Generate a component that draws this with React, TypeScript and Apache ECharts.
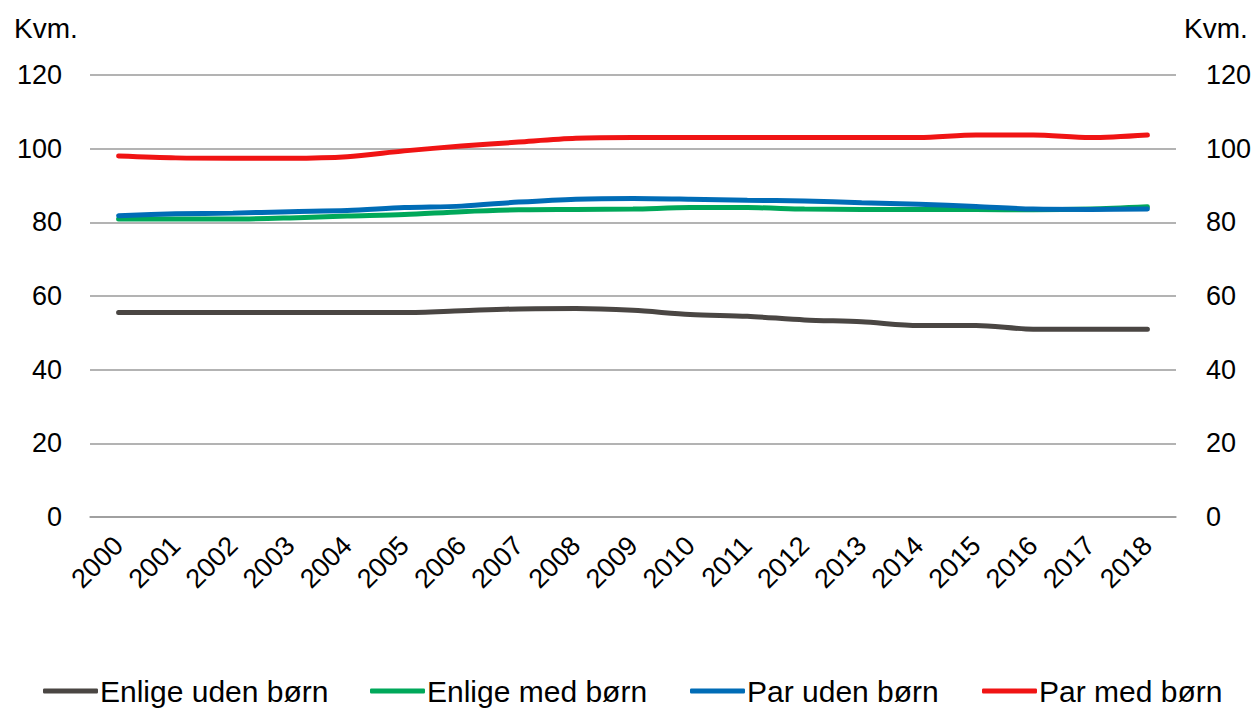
import React, { useEffect, useRef } from "react";
import * as echarts from "echarts";

const years = ["2000","2001","2002","2003","2004","2005","2006","2007","2008","2009","2010","2011","2012","2013","2014","2015","2016","2017","2018"];
const enligeUden = [55.5,55.5,55.5,55.5,55.5,55.5,56,56.5,56.6,56.1,55,54.5,53.5,53,52,52,51,51,51];
const enligeMed = [80.9,80.9,80.9,81.2,81.7,82.1,82.9,83.4,83.5,83.6,84,84,83.6,83.5,83.5,83.5,83.4,83.6,84.2];
const parUden = [81.8,82.3,82.5,82.9,83.2,84,84.4,85.5,86.3,86.5,86.3,86,85.8,85.3,84.9,84.3,83.6,83.5,83.6];
const parMed = [98,97.5,97.4,97.4,97.8,99.4,100.7,101.8,102.8,103,103,103,103,103,103,103.7,103.7,103,103.7];

const seriesNames = ["Enlige uden børn", "Enlige med børn", "Par uden børn", "Par med børn"];
const seriesColors = ["#4a4643", "#00a85a", "#006cb6", "#f01414"];
const seriesData = [enligeUden, enligeMed, parUden, parMed];
const legendLefts = [43, 370, 690, 982];

const FONT = "Liberation Sans";

export default function App() {
  const ref = useRef<HTMLDivElement>(null);
  useEffect(() => {
    if (!ref.current) return;
    const chart = echarts.init(ref.current, null, { renderer: "svg" });
    const labelBase = { fontFamily: FONT, fontSize: 27, color: "#000" };
    const yAxisBase = {
      type: "value",
      min: 0,
      max: 120,
      interval: 20,
      axisLine: { show: false },
      axisTick: { show: false },
    };
    chart.setOption({
      animation: false,
      backgroundColor: "#fff",
      grid: { left: 90, right: 84, top: 75, bottom: 193 },
      graphic: [
        { type: "text", left: 14, top: 14, style: { text: "Kvm.", fontFamily: FONT, fontSize: 28, fill: "#000" } },
        { type: "text", left: 1184, top: 14, style: { text: "Kvm.", fontFamily: FONT, fontSize: 28, fill: "#000" } },
      ],
      legend: seriesNames.map((name, i) => ({
        left: legendLefts[i],
        top: 676,
        padding: 0,
        itemWidth: 55,
        itemHeight: 5,
        icon: "roundRect",
        textStyle: { fontFamily: FONT, fontSize: 30, color: "#000", padding: [0, 0, 0, -3] },
        data: [name],
      })),
      xAxis: {
        type: "category",
        data: years,
        boundaryGap: true,
        axisLine: { show: true, lineStyle: { color: "#9a9a9a", width: 1.5 } },
        axisTick: { show: false },
        axisLabel: { ...labelBase, rotate: 45, margin: 24, interval: 0 },
      },
      yAxis: [
        { ...yAxisBase, position: "left", axisLabel: { ...labelBase, margin: 28 }, splitLine: { show: true, lineStyle: { color: "#9a9a9a", width: 1.5 } } },
        { ...yAxisBase, position: "right", axisLabel: { ...labelBase, margin: 30 }, splitLine: { show: false } },
      ],
      series: seriesNames.map((name, i) => ({
        name,
        type: "line",
        data: seriesData[i],
        yAxisIndex: 0,
        smooth: 0.3,
        symbol: "none",
        lineStyle: { color: seriesColors[i], width: 5, cap: "round" },
        itemStyle: { color: seriesColors[i] },
      })),
    });
    return () => chart.dispose();
  }, []);
  return <div ref={ref} style={{ position: "absolute", left: 0, top: 0, width: 1260, height: 710 }} />;
}
